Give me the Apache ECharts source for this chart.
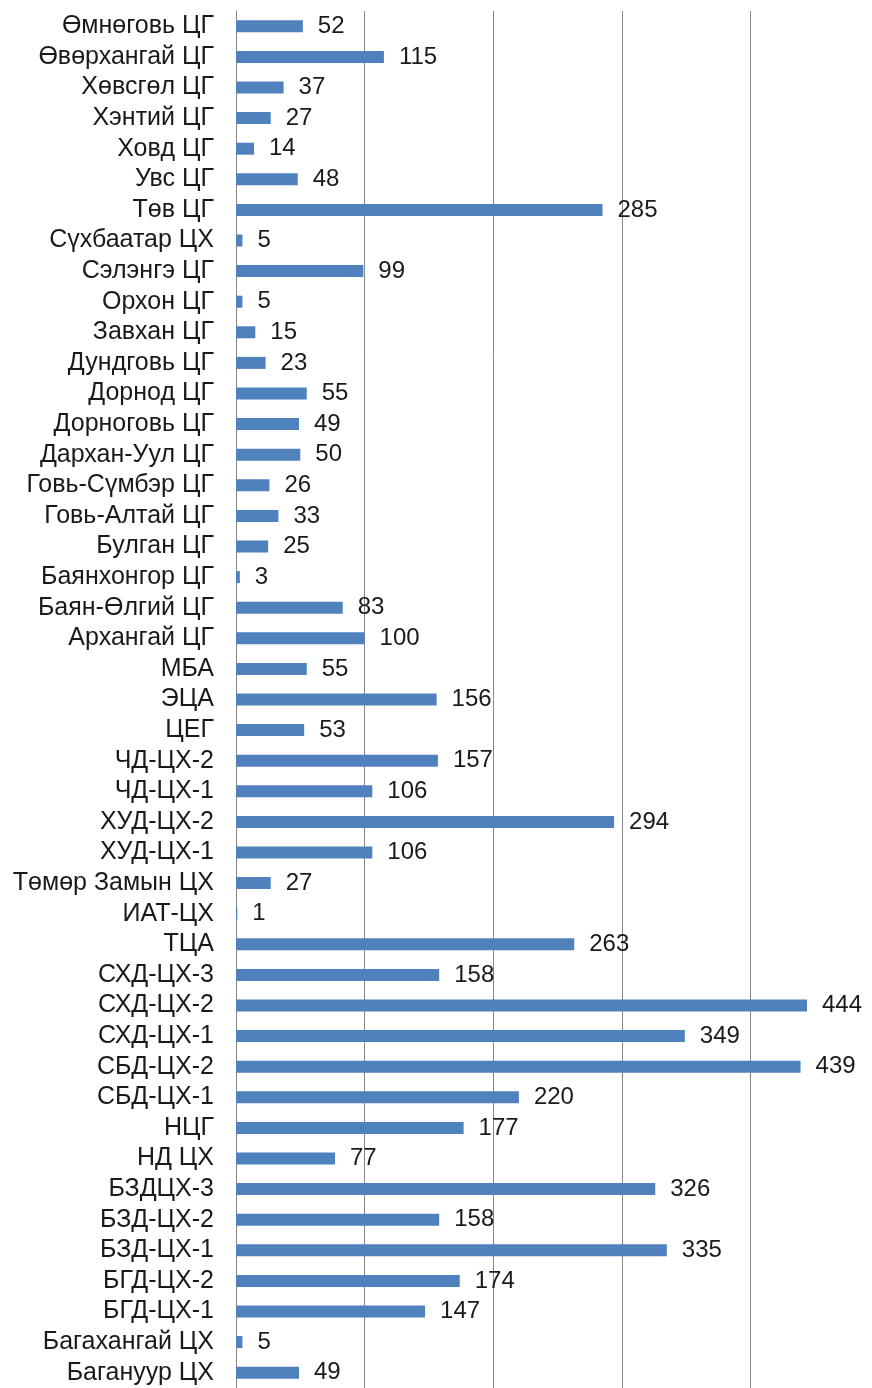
<!DOCTYPE html>
<html>
<head>
<meta charset="utf-8">
<script src="https://cdn.jsdelivr.net/npm/echarts@6/dist/echarts.min.js"></script>
<style>
  html, body { margin: 0; padding: 0; background: #fff; }
  #chart { width: 872px; height: 1388px; }
</style>
</head>
<body>
<div id="chart"></div>
<script>
// categories listed bottom to top (echarts draws the first category at the bottom)
var categories = [
  'Багануур ЦХ', 'Багахангай ЦХ', 'БГД-ЦХ-1', 'БГД-ЦХ-2', 'БЗД-ЦХ-1', 'БЗД-ЦХ-2', 'БЗДЦХ-3',
  'НД ЦХ', 'НЦГ', 'СБД-ЦХ-1', 'СБД-ЦХ-2', 'СХД-ЦХ-1', 'СХД-ЦХ-2', 'СХД-ЦХ-3', 'ТЦА',
  'ИАТ-ЦХ', 'Төмөр Замын ЦХ', 'ХУД-ЦХ-1', 'ХУД-ЦХ-2', 'ЧД-ЦХ-1', 'ЧД-ЦХ-2', 'ЦЕГ', 'ЭЦА', 'МБА',
  'Архангай ЦГ', 'Баян-Өлгий ЦГ', 'Баянхонгор ЦГ', 'Булган ЦГ', 'Говь-Алтай ЦГ', 'Говь-Сүмбэр ЦГ',
  'Дархан-Уул ЦГ', 'Дорноговь ЦГ', 'Дорнод ЦГ', 'Дундговь ЦГ', 'Завхан ЦГ', 'Орхон ЦГ',
  'Сэлэнгэ ЦГ', 'Сүхбаатар ЦХ', 'Төв ЦГ', 'Увс ЦГ', 'Ховд ЦГ', 'Хэнтий ЦГ', 'Хөвсгөл ЦГ',
  'Өвөрхангай ЦГ', 'Өмнөговь ЦГ'
]
var values = [
  49, 5, 147, 174, 335, 158, 326,
  77, 177, 220, 439, 349, 444, 158, 263,
  1, 27, 106, 294, 106, 157, 53, 156, 55,
  100, 83, 3, 25, 33, 26,
  50, 49, 55, 23, 15, 5,
  99, 5, 285, 48, 14, 27, 37,
  115, 52
]
var xTicks = { min: 0, max: 500, interval: 100 }

var myChart = echarts.init(document.getElementById('chart'))
var option = {
  animation: false,
  textStyle: { fontFamily: 'Liberation Sans, Arial, sans-serif' },
  grid: {
    left: 236,
    width: 643,
    top: 11,
    bottom: 0,
    containLabel: false,
    outerBoundsMode: 'none'
  },
  xAxis: {
    type: 'value',
    min: xTicks.min,
    max: xTicks.max,
    interval: xTicks.interval,
    axisLine: { show: false },
    axisTick: { show: false },
    axisLabel: { show: false },
    splitLine: { lineStyle: { color: '#868686', width: 1 } }
  },
  yAxis: {
    type: 'category',
    data: categories,
    axisLine: { lineStyle: { color: '#868686', width: 1 } },
    axisTick: { length: 5, lineStyle: { color: '#868686' } },
    axisLabel: {
      color: '#1a1a1a',
      fontSize: 25,
      margin: 22,
      interval: 0
    }
  },
  series: [{
    type: 'bar',
    data: values,
    barWidth: 12,
    itemStyle: { color: '#4F81BD' },
    label: {
      show: true,
      position: 'right',
      distance: 15,
      color: '#1a1a1a',
      fontSize: 24
    }
  }]
}
myChart.setOption(option)
</script>
</body>
</html>
